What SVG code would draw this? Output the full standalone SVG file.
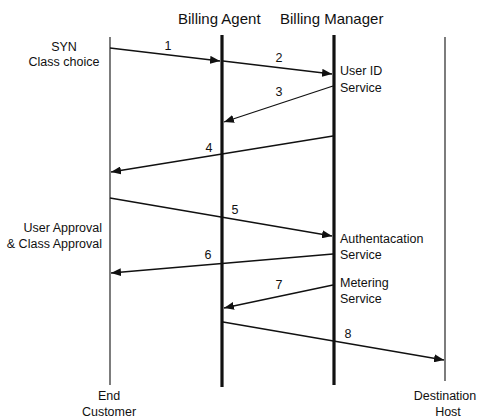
<svg xmlns="http://www.w3.org/2000/svg" width="477" height="418" viewBox="0 0 477 418">
  <style>
    text { font-family: "Liberation Sans", Arial, sans-serif; fill: #111; }
    .title { font-size: 15px; }
    .lbl { font-size: 12.5px; }
    .num { font-size: 12.5px; text-anchor: middle; }
    .thin { stroke: #111; stroke-width: 1.1; }
    .thick { stroke: #111; stroke-width: 3.2; }
    .msg { stroke: #111; stroke-width: 1.3; fill: none; marker-end: url(#head); }
  </style>
  <defs>
    <marker id="head" markerUnits="userSpaceOnUse" markerWidth="10" markerHeight="8" refX="10" refY="4" orient="auto">
      <path d="M0,0 L10,4 L0,8 Z" fill="#111"/>
    </marker>
  </defs>
  <rect width="477" height="418" fill="#fff"/>

  <text class="title" x="178" y="24">Billing Agent</text>
  <text class="title" x="280" y="24">Billing Manager</text>

  <g id="end-customer">
    <line class="thin" x1="110" y1="37" x2="110" y2="385"/>
    <text class="lbl" x="109" y="400" text-anchor="middle">End</text>
    <text class="lbl" x="109" y="416" text-anchor="middle">Customer</text>
  </g>
  <g id="billing-agent">
    <line class="thick" x1="222" y1="35" x2="222" y2="387"/>
  </g>
  <g id="billing-manager">
    <line class="thick" x1="334" y1="35" x2="334" y2="385"/>
  </g>
  <g id="destination-host">
    <line class="thin" x1="445" y1="37" x2="445" y2="381"/>
    <text class="lbl" x="445" y="400" text-anchor="middle">Destination</text>
    <text class="lbl" x="448" y="416" text-anchor="middle">Host</text>
  </g>

  <g id="notes">
    <text class="lbl" x="64" y="51" text-anchor="middle">SYN</text>
    <text class="lbl" x="64" y="66" text-anchor="middle">Class choice</text>
    <text class="lbl" x="340" y="75">User ID</text>
    <text class="lbl" x="340" y="92">Service</text>
    <text class="lbl" x="102" y="232" text-anchor="end">User Approval</text>
    <text class="lbl" x="102" y="248" text-anchor="end">&amp; Class Approval</text>
    <text class="lbl" x="340" y="243">Authentacation</text>
    <text class="lbl" x="340" y="259">Service</text>
    <text class="lbl" x="340" y="287">Metering</text>
    <text class="lbl" x="340" y="303">Service</text>
  </g>

  <g id="connectors">
    <line class="msg" x1="110" y1="48" x2="220" y2="61"/>
    <line class="msg" x1="223" y1="61" x2="332" y2="74"/>
    <line class="msg" x1="333" y1="86" x2="224" y2="122"/>
    <line class="msg" x1="333" y1="136" x2="111" y2="172"/>
    <line class="msg" x1="110" y1="198" x2="332" y2="236"/>
    <line class="msg" x1="333" y1="254" x2="111" y2="273"/>
    <line class="msg" x1="333" y1="285" x2="224" y2="308"/>
    <line class="msg" x1="223" y1="322" x2="444" y2="360"/>
    <text class="num" x="168" y="50">1</text>
    <text class="num" x="279" y="62">2</text>
    <text class="num" x="279" y="96">3</text>
    <text class="num" x="209" y="152">4</text>
    <text class="num" x="235" y="214">5</text>
    <text class="num" x="208" y="259">6</text>
    <text class="num" x="279" y="289">7</text>
    <text class="num" x="348" y="338">8</text>
  </g>
</svg>
